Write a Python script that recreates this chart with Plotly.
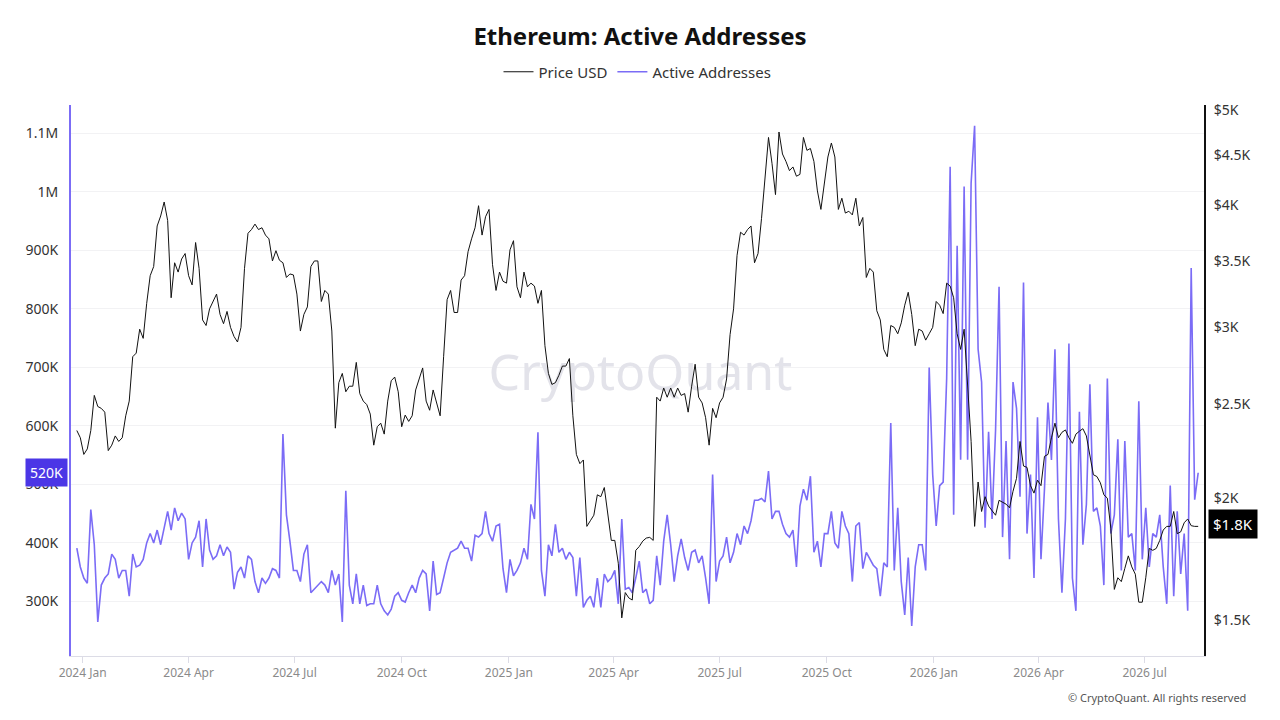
import pandas as pd
import plotly.graph_objects as go

# price, USD, one value every 3 days from 2023-12-27
price_usd = [
    2347, 2307, 2218, 2247, 2347, 2550, 2484, 2473, 2451, 2238,
    2267, 2317, 2287, 2307, 2430, 2516, 2794, 2818, 2982, 2918,
    3170, 3384, 3458, 3806, 3897, 4028, 3856, 3212, 3489, 3413,
    3520, 3566, 3384, 3311, 3660, 3443, 3048, 3008, 3129, 3190,
    3240, 3088, 3021, 3110, 2995, 2931, 2893, 2995, 3443, 3741,
    3774, 3823, 3774, 3790, 3725, 3692, 3504, 3590, 3510, 3489,
    3370, 3398, 3390, 3240, 2969, 3088, 3143, 3458, 3504, 3504,
    3184, 3268, 3240, 2969, 2360, 2628, 2686, 2572, 2606, 2606,
    2757, 2561, 2516, 2495, 2440, 2267, 2368, 2388, 2327, 2516,
    2640, 2663, 2572, 2368, 2434, 2398, 2430, 2583, 2646, 2721,
    2516, 2462, 2583, 2505, 2430, 2794, 3198, 3268, 3102, 3102,
    3349, 3384, 3582, 3692, 3790, 3993, 3725, 3890, 3958, 3473,
    3268, 3413, 3340, 3325, 3597, 3676, 3296, 3212, 3413, 3296,
    3325, 3302, 3170, 3268, 2868, 2686, 2617, 2628, 2674, 2733,
    2733, 2782, 2430, 2218, 2170, 2189, 1871, 1896, 1921, 2016,
    2007, 2051, 1938, 1810, 1810, 1715, 1507, 1600, 1580, 1572,
    1768, 1784, 1807, 1820, 1823, 1810, 2539, 2516, 2595, 2539,
    2595, 2539, 2595, 2550, 2561, 2451, 2606, 2745, 2539, 2505,
    2419, 2267, 2473, 2419, 2505, 2539, 2651, 2944, 3129, 3551,
    3750, 3725, 3774, 3806, 3489, 3566, 3873, 4244, 4692, 4414,
    4099, 4753, 4512, 4433, 4338, 4376, 4281, 4300, 4692, 4551,
    4571, 4433, 4135, 3958, 4189, 4480, 4631, 4480, 3958, 4064,
    3924, 3941, 3907, 4064, 3806, 3883, 3370, 3443, 3413, 3115,
    3048, 2843, 2794, 3008, 2995, 2950, 3027, 3156, 3254, 3088,
    2868, 2982, 2969, 2906, 2950, 2995, 3184, 3156, 3094, 3325,
    3302, 3212, 2950, 2843, 2982, 2606, 2287, 1871, 2078, 1938,
    2007, 1963, 1941, 1921, 1990, 1981, 1972, 1955, 2033, 2096,
    2287, 2158, 2151, 2060, 2024, 2087, 2060, 2208, 2218, 2307,
    2388, 2307, 2337, 2350, 2307, 2277, 2327, 2343, 2357, 2317,
    2208, 2114, 2105, 2074, 2016, 2000, 1863, 1612, 1657, 1642,
    1694, 1745, 1700, 1671, 1564, 1564, 1657, 1776, 1768, 1776,
    1810, 1855, 1871, 1871, 1938, 1839, 1847, 1887, 1904, 1874,
    1871, 1871,
]

# active addresses, thousands, same dates
active_k = [
    391, 359, 340, 331, 457, 397, 265, 328, 340, 347,
    381, 372, 340, 353, 353, 309, 381, 359, 362, 372,
    400, 416, 400, 422, 397, 425, 454, 422, 460, 438,
    451, 441, 372, 400, 410, 438, 359, 441, 388, 372,
    378, 397, 378, 393, 384, 321, 350, 359, 340, 378,
    372, 334, 315, 340, 331, 340, 356, 353, 340, 586,
    448, 403, 353, 353, 334, 381, 397, 315, 321, 328,
    334, 328, 315, 353, 328, 347, 265, 489, 328, 296,
    347, 296, 328, 293, 296, 296, 328, 296, 284, 277,
    287, 309, 315, 302, 299, 315, 328, 315, 340, 353,
    347, 284, 369, 312, 315, 340, 366, 384, 388, 391,
    403, 391, 391, 369, 413, 410, 416, 454, 416, 403,
    429, 432, 356, 315, 372, 344, 353, 366, 391, 372,
    466, 441, 589, 353, 309, 397, 378, 432, 384, 391,
    372, 384, 375, 309, 375, 290, 302, 309, 290, 340,
    290, 347, 334, 340, 353, 296, 441, 321, 324, 315,
    340, 369, 315, 321, 296, 302, 378, 328, 403, 448,
    397, 334, 378, 407, 375, 353, 384, 388, 366, 378,
    340, 296, 517, 334, 369, 378, 410, 366, 384, 416,
    397, 429, 416, 438, 473, 473, 476, 470, 523, 441,
    454, 454, 432, 416, 410, 422, 359, 463, 492, 473,
    514, 384, 403, 359, 416, 416, 454, 400, 391, 454,
    429, 416, 334, 429, 435, 356, 384, 372, 362, 356,
    309, 366, 359, 605, 353, 460, 334, 277, 375, 258,
    359, 397, 397, 353, 700, 517, 429, 498, 504, 681,
    1043, 448, 908, 542, 1009, 542, 1015, 1113, 731, 675,
    426, 590, 441, 593, 838, 410, 574, 372, 675, 630,
    479, 845, 416, 517, 340, 615, 372, 492, 640, 542,
    731, 441, 315, 441, 741, 340, 284, 624, 397, 466,
    671, 454, 460, 429, 328, 681, 416, 448, 577, 353,
    574, 410, 416, 353, 642, 372, 460, 359, 416, 410,
    448, 359, 296, 498, 309, 454, 347, 416, 284, 870,
    474, 520,
]

price_dates = pd.date_range('2023-12-27', periods=len(price_usd), freq='3D')
active_dates = pd.date_range('2023-12-27', periods=len(active_k), freq='3D')

x_tick_dates = ['2024-01-01', '2024-04-01', '2024-07-01', '2024-10-01',
                '2025-01-01', '2025-04-01', '2025-07-01', '2025-10-01',
                '2026-01-01', '2026-04-01', '2026-07-01']
x_tick_text = ['2024 Jan', '2024 Apr', '2024 Jul', '2024 Oct',
               '2025 Jan', '2025 Apr', '2025 Jul', '2025 Oct',
               '2026 Jan', '2026 Apr', '2026 Jul']
left_ticks = [300, 400, 500, 600, 700, 800, 900, 1000, 1100]
left_text = ['300K', '400K', '500K', '600K', '700K', '800K', '900K', '1M', '1.1M']
right_ticks = [1500, 2000, 2500, 3000, 3500, 4000, 4500, 5000]
right_text = ['$1.5K', '$2K', '$2.5K', '$3K', '$3.5K', '$4K', '$4.5K', '$5K']

PURPLE = '#7B6CF6'
FONT = 'Noto Sans'

fig = go.Figure()

# watermark, drawn first so the lines sit above it
fig.add_trace(go.Scatter(
    x=[pd.Timestamp('2025-04-24')], y=[683], mode='text', text=['CryptoQuant'],
    textfont=dict(size=50, color='#e3e3ea', family=FONT),
    showlegend=False, hoverinfo='skip'))

fig.add_trace(go.Scatter(
    x=active_dates, y=active_k, name='Active Addresses', mode='lines',
    line=dict(color=PURPLE, width=1.6), legendrank=2))

fig.add_trace(go.Scatter(
    x=price_dates, y=price_usd, name='Price USD', mode='lines', yaxis='y2',
    line=dict(color='#111111', width=1), legendrank=1))

fig.update_layout(
    width=1280, height=720,
    margin=dict(l=71, r=76, t=100, b=64),
    paper_bgcolor='white', plot_bgcolor='white',
    font=dict(family=FONT, color='#333'),
    title=dict(text='<b>Ethereum: Active Addresses</b>', x=0.5, xanchor='center',
               y=1 - 37 / 720, yanchor='middle', yref='container',
               font=dict(size=24, color='#111', family=FONT)),
    legend=dict(orientation='h', x=0.5, xanchor='center', y=1 - 72 / 720,
                yanchor='middle', yref='container', font=dict(size=15, color='#333')),
    hovermode=False,
    xaxis=dict(type='date', range=['2023-12-22', '2026-08-21'],
               tickvals=x_tick_dates, ticktext=x_tick_text,
               showgrid=False, zeroline=False, showline=True, linecolor='#dcdce6',
               ticks='outside', ticklen=6, tickcolor='#dcdce6',
               tickfont=dict(size=12, color='#8a8a8a')),
    yaxis=dict(range=[206.8, 1149], tickvals=left_ticks, ticktext=left_text,
               showgrid=True, gridcolor='#f2f2f4', zeroline=False,
               showline=True, linecolor=PURPLE, linewidth=2,
               ticks='outside', ticklen=8, tickcolor='rgba(0,0,0,0)',
               tickfont=dict(size=14, color='#333')),
    yaxis2=dict(type='log', range=[3.139, 3.705], overlaying='y', side='right',
                tickvals=right_ticks, ticktext=right_text,
                showgrid=False, zeroline=False,
                showline=True, linecolor='#111', linewidth=2,
                ticks='outside', ticklen=5, tickcolor='rgba(0,0,0,0)',
                tickfont=dict(size=14, color='#333')),
)

# last-value tags on both axes
fig.add_annotation(xref='paper', x=0, xanchor='right', xshift=-3,
                   yref='y', y=active_k[-1], text='520K', showarrow=False,
                   bgcolor='#4B36E6', borderpad=4,
                   font=dict(size=14, color='white'))
fig.add_annotation(xref='paper', x=1, xanchor='left', xshift=4,
                   yref='y2', y=3.274, text='$1.8K', showarrow=False,
                   bgcolor='#000', borderpad=4,
                   font=dict(size=15, color='white'))

fig.add_annotation(xref='paper', x=1.0388, xanchor='right',
                   yref='paper', y=-0.0755, yanchor='middle',
                   text='© CryptoQuant. All rights reserved', showarrow=False,
                   font=dict(size=11, color='#555'))

# drop the default page margin so the figure sits at the window corner
fig.write_html('out.html', config={'displayModeBar': False},
               post_script="document.body.style.margin='0';")
